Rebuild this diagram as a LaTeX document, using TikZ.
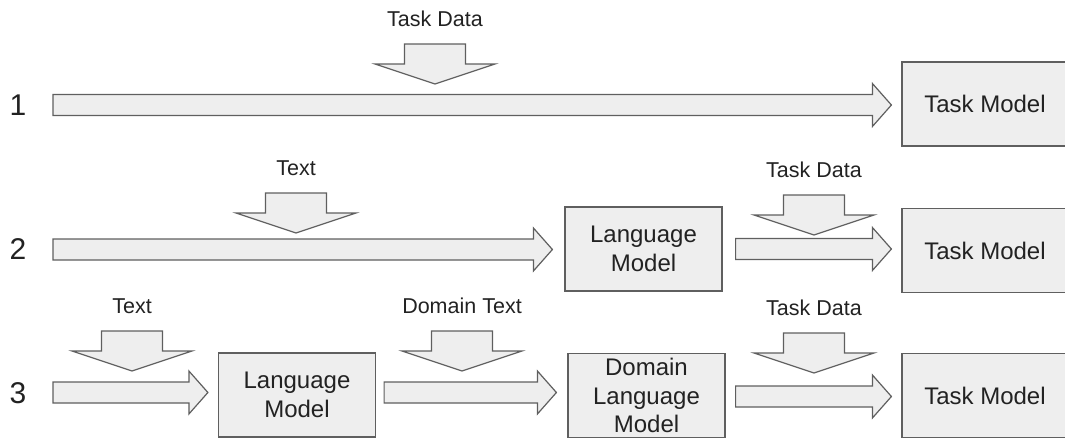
\documentclass[tikz,border=0pt]{standalone}
\usepackage{fontspec}
\setmainfont{Liberation Sans}
\usetikzlibrary{calc}

\definecolor{boxfill}{HTML}{EEEEEE}
\definecolor{boxline}{HTML}{5F5F5F}
\definecolor{ink}{HTML}{222222}

\tikzset{
  box/.style={draw=boxline, fill=boxfill, line width=1.2pt, align=center, text=ink,
    minimum width=157pt, minimum height=84pt, inner sep=0pt,
    font=\fontsize{24}{28.5}\selectfont},
  lbl/.style={text=ink, inner sep=0pt, font=\fontsize{21.5}{26}\selectfont},
  num/.style={text=ink, inner sep=0pt, font=\fontsize{30}{36}\selectfont},
  blockline/.style={draw=boxline, fill=boxfill, line width=1.2pt, line join=miter}
}

% horizontal block arrow from #1 to #2, at the height of #1
\newcommand{\blockarrow}[2]{%
  \draw[blockline] let \p1=(#1), \p2=(#2) in
    (\x1,\y1+10.5pt) -- (\x2-19pt,\y1+10.5pt) -- (\x2-19pt,\y1+21.5pt) -- (\x2,\y1)
    -- (\x2-19pt,\y1-21.5pt) -- (\x2-19pt,\y1-10.5pt) -- (\x1,\y1-10.5pt) -- cycle;}

% downward block arrow under the label #1
\newcommand{\feedarrow}[1]{%
  \draw[blockline] let \p1=(#1) in
    (\x1-30.5pt,\y1-25pt) -- (\x1+30.5pt,\y1-25pt) -- (\x1+30.5pt,\y1-45pt)
    -- (\x1+60pt,\y1-45pt) -- (\x1,\y1-65pt) -- (\x1-60pt,\y1-45pt)
    -- (\x1-30.5pt,\y1-45pt) -- cycle;}

\begin{document}
\begin{tikzpicture}[x=1pt,y=-1pt]
\useasboundingbox (0,0) rectangle (1065,439);

% row 1
\node[num] (n1) at (18,105) {1};
\coordinate (s1) at (53,105);
\node[box, minimum width=166pt] (tm1) at (985,104) {Task Model};
\node[lbl] (td1) at (435,19) {Task Data};
\blockarrow{s1}{$(tm1.west)+(-10,0)$}
\feedarrow{td1}

% row 2
\node[num] (n2) at (18,249) {2};
\coordinate (s2) at (53,249.5);
\node[box] (lm2) at (643.5,249) {Language\\Model};
\node[box, minimum width=166pt] (tm2) at (985,250.5) {Task Model};
\node[lbl] (tx2) at (296,168) {Text};
\node[lbl] (td2) at (814,170) {Task Data};
\blockarrow{s2}{$(lm2.west)+(-12,0)$}
\blockarrow{$(lm2.east)+(13,0)$}{$(tm2.west)+(-10,0)$}
\feedarrow{tx2}
\feedarrow{td2}

% row 3
\node[num] (n3) at (18,393) {3};
\coordinate (s3) at (53,392.5);
\node[box] (lm3) at (297,395) {Language\\Model};
\node[box] (dlm3) at (646.5,395.5) {Domain\\Language\\Model};
\node[box, minimum width=166pt] (tm3) at (985,395.5) {Task Model};
\node[lbl] (tx3) at (132,306) {Text};
\node[lbl] (dt3) at (462,306) {Domain Text};
\node[lbl] (td3) at (814,308) {Task Data};
\blockarrow{s3}{$(lm3.west)+(-10,0)$}
\blockarrow{$(lm3.east)+(8,-2.5)$}{$(dlm3.west)+(-11,0)$}
\blockarrow{$(dlm3.east)+(10,1)$}{$(tm3.west)+(-10,0)$}
\feedarrow{tx3}
\feedarrow{dt3}
\feedarrow{td3}
\end{tikzpicture}
\end{document}
